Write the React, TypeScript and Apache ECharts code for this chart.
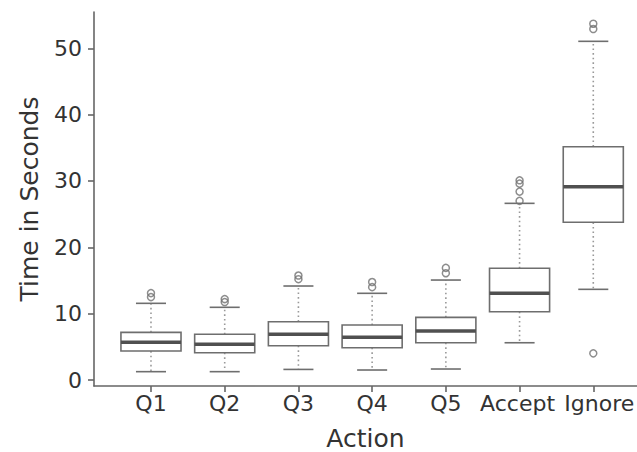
import React, { useEffect, useRef } from "react";
import * as echarts from "echarts";

// Categories and box statistics (seconds)
const categories = ["Q1", "Q2", "Q3", "Q4", "Q5", "Accept", "Ignore"];
const whiskerLow = [1.26, 1.26, 1.6, 1.51, 1.66, 5.62, 13.67];
const quartile1 = [4.37, 4.12, 5.17, 4.87, 5.62, 10.3, 23.77];
const medians = [5.68, 5.38, 6.89, 6.43, 7.39, 13.07, 29.14];
const quartile3 = [7.18, 6.89, 8.79, 8.29, 9.45, 16.84, 35.17];
const whiskerHigh = [11.56, 10.96, 14.17, 13.07, 15.07, 26.63, 51.05];

// Outliers: [categoryIndex, value]
const outliers: [number, number][] = [
  [0, 12.5], [0, 13.1],
  [1, 11.75], [1, 12.2],
  [2, 15.2], [2, 15.75],
  [3, 14.0], [3, 14.77],
  [4, 16.1], [4, 16.9],
  [5, 27.0], [5, 28.4], [5, 29.6], [5, 30.1],
  [6, 4.02], [6, 52.9], [6, 53.7],
];

const yTicks = [0, 10, 20, 30, 40, 50];
const xTicks = [0, 1, 2, 3, 4, 5, 6];

const FONT = "DejaVu Sans";

export default function App() {
  const ref = useRef<HTMLDivElement>(null);

  useEffect(() => {
    if (!ref.current) return;
    const chart = echarts.init(ref.current, null, { renderer: "svg" });

    const boxData = categories.map((_, i) => [
      i,
      whiskerLow[i],
      quartile1[i],
      medians[i],
      quartile3[i],
      whiskerHigh[i],
    ]);

    const labelStyle = { fontFamily: FONT, fontSize: 22, color: "#333" };

    const option: any = {
      animation: false,
      backgroundColor: "#ffffff",
      grid: {
        left: 94,
        right: 0,
        top: 12,
        height: 374,
        containLabel: false,
        outerBoundsMode: "none",
      },
      xAxis: {
        type: "value",
        min: -0.773,
        max: 6.593,
        name: "Action",
        nameLocation: "middle",
        nameGap: 40,
        nameTextStyle: { fontFamily: FONT, fontSize: 25, color: "#333" },
        splitLine: { show: false },
        axisLine: { show: true, onZero: false, lineStyle: { color: "#666", width: 1.6 } },
        axisTick: {
          show: true,
          customValues: xTicks,
          length: 6,
          lineStyle: { color: "#666", width: 1.6 },
        },
        axisLabel: {
          customValues: xTicks,
          margin: 6,
          hideOverlap: false,
          ...labelStyle,
          formatter: (v: number) => {
            const i = Math.round(v);
            const name = categories[i] ?? "";
            if (i === categories.length - 1) return "{last|" + name + "}";
            if (i === categories.length - 2) return "{prev|" + name + "}";
            return name;
          },
          rich: {
            last: { ...labelStyle, padding: [0, 0, 0, 12] },
            prev: { ...labelStyle, padding: [0, 4, 0, 0] },
          },
        },
      },
      yAxis: {
        type: "value",
        min: -0.9,
        max: 55.47,
        name: "Time in Seconds",
        nameLocation: "middle",
        nameGap: 52,
        nameTextStyle: { fontFamily: FONT, fontSize: 25, color: "#333" },
        splitLine: { show: false },
        axisLine: { show: true, onZero: false, lineStyle: { color: "#666", width: 1.6 } },
        axisTick: {
          show: true,
          customValues: yTicks,
          length: 6,
          lineStyle: { color: "#666", width: 1.6 },
        },
        axisLabel: {
          customValues: yTicks,
          margin: 12,
          ...labelStyle,
        },
      },
      series: [
        {
          type: "custom",
          data: boxData,
          encode: { x: 0, y: [1, 2, 3, 4, 5] },
          renderItem: (params: any, api: any) => {
            const i = api.value(0);
            const lo = api.value(1);
            const q1 = api.value(2);
            const med = api.value(3);
            const q3 = api.value(4);
            const hi = api.value(5);
            const cx = api.coord([i, med])[0];
            const unit = api.size([1, 0])[0];
            const bw = unit * 0.815;
            const cw = bw / 2;
            const yLo = api.coord([i, lo])[1];
            const yQ1 = api.coord([i, q1])[1];
            const yMed = api.coord([i, med])[1];
            const yQ3 = api.coord([i, q3])[1];
            const yHi = api.coord([i, hi])[1];
            const boxStroke = "#6e6e6e";
            const dotted = { stroke: "#999", lineWidth: 1.6, lineDash: [1.6, 3] };
            return {
              type: "group",
              children: [
                {
                  type: "line",
                  shape: { x1: cx, y1: yQ3, x2: cx, y2: yHi },
                  style: dotted,
                },
                {
                  type: "line",
                  shape: { x1: cx, y1: yQ1, x2: cx, y2: yLo },
                  style: dotted,
                },
                {
                  type: "line",
                  shape: { x1: cx - cw / 2, y1: yHi, x2: cx + cw / 2, y2: yHi },
                  style: { stroke: boxStroke, lineWidth: 1.6 },
                },
                {
                  type: "line",
                  shape: { x1: cx - cw / 2, y1: yLo, x2: cx + cw / 2, y2: yLo },
                  style: { stroke: boxStroke, lineWidth: 1.6 },
                },
                {
                  type: "rect",
                  shape: { x: cx - bw / 2, y: yQ3, width: bw, height: yQ1 - yQ3 },
                  style: { fill: "#ffffff", stroke: boxStroke, lineWidth: 1.6 },
                },
                {
                  type: "line",
                  shape: { x1: cx - bw / 2, y1: yMed, x2: cx + bw / 2, y2: yMed },
                  style: { stroke: "#505050", lineWidth: 3.5 },
                },
              ],
            };
          },
          z: 2,
        },
        {
          type: "scatter",
          data: outliers,
          symbol: "circle",
          symbolSize: 7,
          itemStyle: { color: "rgba(255,255,255,0)", borderColor: "#707070", borderWidth: 1.5 },
          z: 3,
        },
      ],
    };

    chart.setOption(option);
    return () => chart.dispose();
  }, []);

  return (
    <div
      ref={ref}
      style={{ position: "fixed", left: 0, top: 0, width: 637, height: 452 }}
    />
  );
}
